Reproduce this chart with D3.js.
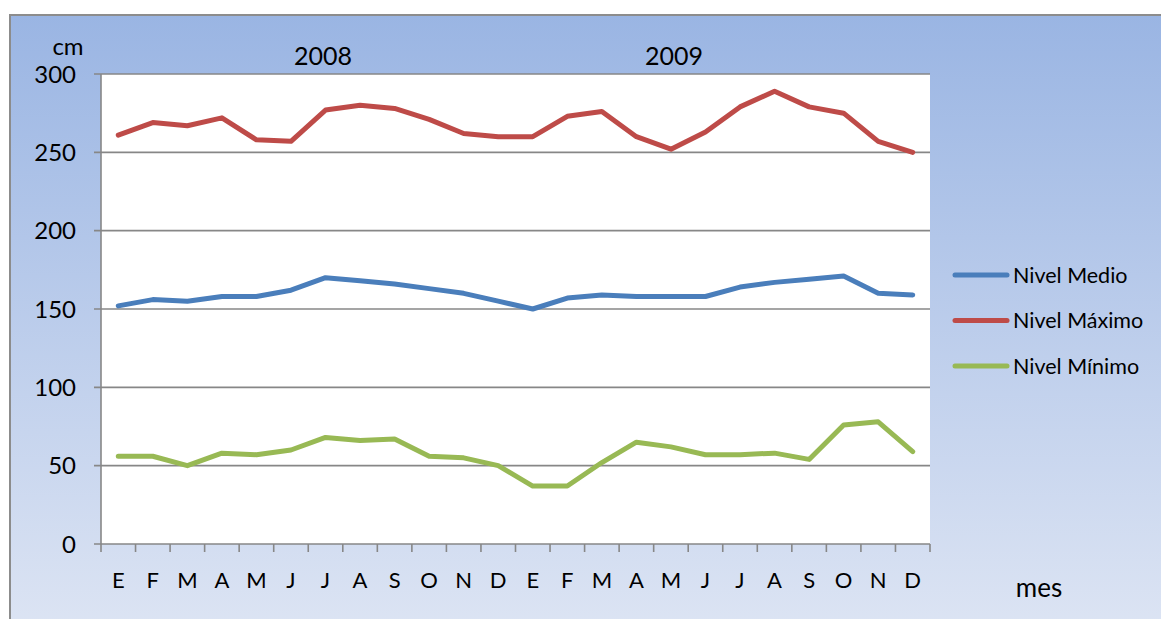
<!DOCTYPE html>
<html>
<head>
<meta charset="utf-8">
<script src="https://d3js.org/d3.v7.min.js"></script>
<style>
  body { margin: 0; background: #fff; }
  svg { display: block; font-family: Lato, "Open Sans", sans-serif; }
</style>
</head>
<body>
<svg id="chart" width="1161" height="619"></svg>
<script>
// month initials, repeated for each year
var months = ["E", "F", "M", "A", "M", "J", "J", "A", "S", "O", "N", "D"];
var years = ["2008", "2009"];
var yTicks = [0, 50, 100, 150, 200, 250, 300];

// values (cm)
var nivelMedio = [152, 156, 155, 158, 158, 162, 170, 168, 166, 163, 160, 155,
                  150, 157, 159, 158, 158, 158, 164, 167, 169, 171, 160, 159];
var nivelMaximo = [261, 269, 267, 272, 258, 257, 277, 280, 278, 271, 262, 260,
                   260, 273, 276, 260, 252, 263, 279, 289, 279, 275, 257, 250];
var nivelMinimo = [56, 56, 50, 58, 57, 60, 68, 66, 67, 56, 55, 50,
                   37, 37, 52, 65, 62, 57, 57, 58, 54, 76, 78, 59];

var seriesNames = ["Nivel Medio", "Nivel Máximo", "Nivel Mínimo"];
var seriesColors = ["#4a7ebb", "#be4b48", "#98b954"];
var seriesData = [nivelMedio, nivelMaximo, nivelMinimo];

var svg = d3.select("#chart");
var W = 1161, H = 619;
var plot = {left: 101, right: 930, top: 74, bottom: 544};

// background panel with gradient
var defs = svg.append("defs");
var grad = defs.append("linearGradient").attr("id", "bg")
  .attr("x1", 0).attr("y1", 0).attr("x2", 0).attr("y2", 1);
grad.append("stop").attr("offset", "0%").attr("stop-color", "#9ab5e3");
grad.append("stop").attr("offset", "100%").attr("stop-color", "#dfe6f4");

svg.append("rect").attr("x", 10).attr("y", 15)
  .attr("width", W + 20).attr("height", H + 20)
  .attr("fill", "url(#bg)")
  .attr("stroke", "#8c8c8c").attr("stroke-width", 2);

// plot background
svg.append("rect")
  .attr("x", plot.left).attr("y", plot.top)
  .attr("width", plot.right - plot.left).attr("height", plot.bottom - plot.top)
  .attr("fill", "#fff");

var cats = d3.range(months.length * years.length);
var x = d3.scaleBand().domain(cats).range([plot.left, plot.right]).padding(0);
var y = d3.scaleLinear().domain([0, 300]).range([plot.bottom, plot.top]);

// gridlines + y ticks
svg.append("g").selectAll("line").data(yTicks).enter().append("line")
  .attr("x1", plot.left - 7).attr("x2", plot.right)
  .attr("y1", function(d){ return y(d); }).attr("y2", function(d){ return y(d); })
  .attr("stroke", "#878787").attr("stroke-width", 1.6);

svg.append("g").selectAll("text").data(yTicks).enter().append("text")
  .attr("x", 76).attr("y", function(d){ return y(d); })
  .attr("dy", "0.36em").attr("text-anchor", "end")
  .attr("font-size", 24).attr("fill", "#000")
  .text(function(d){ return d; });

// y axis line
svg.append("line")
  .attr("x1", plot.left).attr("x2", plot.left)
  .attr("y1", plot.top).attr("y2", plot.bottom)
  .attr("stroke", "#878787").attr("stroke-width", 1.6);

// x ticks at category boundaries
var bounds = cats.map(function(i){ return x(i); }).concat([plot.right]);
svg.append("g").selectAll("line").data(bounds).enter().append("line")
  .attr("x1", function(d){ return d; }).attr("x2", function(d){ return d; })
  .attr("y1", plot.bottom).attr("y2", plot.bottom + 8)
  .attr("stroke", "#878787").attr("stroke-width", 1.6);

svg.append("g").selectAll("text").data(cats).enter().append("text")
  .attr("x", function(i){ return x(i) + x.bandwidth() / 2; })
  .attr("y", 588).attr("text-anchor", "middle")
  .attr("font-size", 22).attr("fill", "#000")
  .text(function(i){ return months[i % 12]; });

// lines
var line = d3.line()
  .x(function(d, i){ return x(i) + x.bandwidth() / 2; })
  .y(function(d){ return y(d); });

seriesData.forEach(function(s, k){
  svg.append("path").datum(s)
    .attr("d", line)
    .attr("fill", "none")
    .attr("stroke", seriesColors[k])
    .attr("stroke-width", 5)
    .attr("stroke-linejoin", "round")
    .attr("stroke-linecap", "round");
});

// legend
var legend = svg.append("g");
seriesNames.forEach(function(name, k){
  var ly = 275 + k * 45.5;
  legend.append("line")
    .attr("x1", 955).attr("x2", 1007).attr("y1", ly).attr("y2", ly)
    .attr("stroke", seriesColors[k]).attr("stroke-width", 5)
    .attr("stroke-linecap", "round");
  legend.append("text")
    .attr("x", 1013).attr("y", ly).attr("dy", "0.36em")
    .attr("font-size", 21.5).attr("fill", "#000")
    .text(name);
});

// annotations
svg.append("text").attr("x", 68).attr("y", 55).attr("text-anchor", "middle")
  .attr("font-size", 24).text("cm");
svg.append("text").attr("x", 323).attr("y", 65).attr("text-anchor", "middle")
  .attr("font-size", 25).text(years[0]);
svg.append("text").attr("x", 674).attr("y", 65).attr("text-anchor", "middle")
  .attr("font-size", 25).text(years[1]);
svg.append("text").attr("x", 1039).attr("y", 597).attr("text-anchor", "middle")
  .attr("font-size", 26).text("mes");
</script>
</body>
</html>
